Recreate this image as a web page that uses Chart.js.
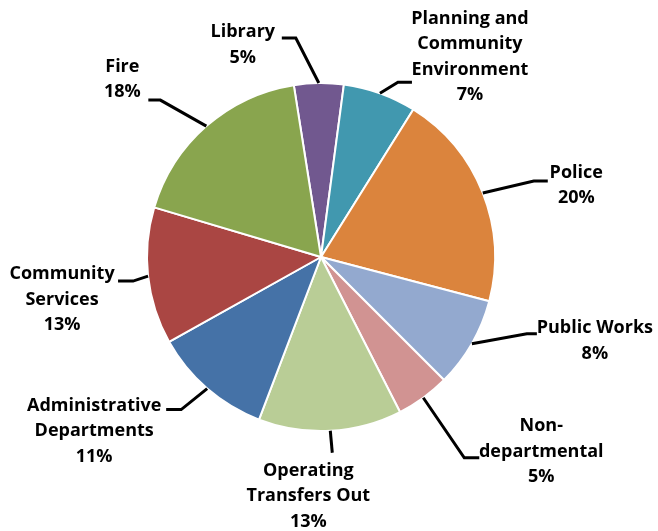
<!DOCTYPE html>
<html><head><meta charset="utf-8">
<script src="https://cdn.jsdelivr.net/npm/chart.js@4.4.0/dist/chart.umd.min.js"></script>
<style>html,body{margin:0;padding:0;background:#fff;overflow:hidden}</style>
</head><body>
<canvas id="c" width="658" height="531"></canvas>
<script>
// ---- data ----
const categories = ["Library", "Planning and\nCommunity\nEnvironment", "Police", "Public Works", "Non-\ndepartmental", "Operating\nTransfers Out", "Administrative\nDepartments", "Community\nServices", "Fire"];
const values = [4.6, 6.8, 20.2, 8.4, 5.0, 13.3, 11.1, 12.7, 17.9];
const colors = ['#71588F', '#4198AF', '#DB843D', '#93A9CF', '#D19392', '#B9CD96', '#4572A7', '#AA4643', '#89A54E'];

// ---- label layout (leader elbow offset from slice edge, tail length, text offset from tail end) ----
const labelLayout = [
  {elbow: [-23, -45], tail: -14, text: [-39, -6]},
  {elbow: [18, -11], tail: 14, text: [58, -63.5]},
  {elbow: [51, -12], tail: 14, text: [28.5, -8.5]},
  {elbow: [55, -10], tail: 10, text: [58, -5.5]},
  {elbow: [41, 60], tail: 15, text: [62, -31.5]},
  {elbow: [2, 22], tail: 0, text: [-24, 18]},
  {elbow: [-26, 21], tail: -15, text: [-72, -4]},
  {elbow: [-15, 5], tail: -15, text: [-56, -7]},
  {elbow: [-46, -26], tail: -12, text: [-26, -33.5]}
];

const total = values.reduce((a, b) => a + b, 0);

const labelPlugin = {
  id: 'leaderLabels',
  afterDatasetsDraw(chart) {
    const ctx = chart.ctx;
    const meta = chart.getDatasetMeta(0);
    ctx.save();
    meta.data.forEach((arc, i) => {
      const p = arc.getProps(['x', 'y', 'startAngle', 'endAngle', 'outerRadius'], true);
      const mid = (p.startAngle + p.endAngle) / 2;
      const ex = p.x + Math.cos(mid) * p.outerRadius;
      const ey = p.y + Math.sin(mid) * p.outerRadius;
      const L = labelLayout[i];
      const bx = ex + L.elbow[0], by = ey + L.elbow[1];
      const tx = bx + L.tail, ty = by;
      ctx.strokeStyle = '#000';
      ctx.lineWidth = 3;
      ctx.lineJoin = 'miter';
      ctx.beginPath();
      ctx.moveTo(ex, ey);
      ctx.lineTo(bx, by);
      if (L.tail !== 0) ctx.lineTo(tx, ty);
      ctx.stroke();
      const lines = categories[i].split('\n');
      lines.push(Math.round(values[i] / total * 100) + '%');
      ctx.fillStyle = '#000';
      ctx.font = 'bold 18px "Open Sans"';
      ctx.textAlign = 'center';
      ctx.textBaseline = 'middle';
      const cx = tx + L.text[0];
      let cy = ty + L.text[1];
      lines.forEach((ln, k) => ctx.fillText(ln, cx, cy + k * 25.5));
    });
    ctx.restore();
  }
};

new Chart(document.getElementById('c'), {
  type: 'pie',
  data: {
    labels: categories,
    datasets: [{
      data: values,
      backgroundColor: colors,
      borderColor: '#ffffff',
      borderWidth: 2
    }]
  },
  options: {
    responsive: false,
    animation: false,
    devicePixelRatio: 1,
    rotation: -9,
    radius: 174,
    layout: {padding: {left: 100, right: 116, top: 40, bottom: 57}},
    plugins: {legend: {display: false}, tooltip: {enabled: false}}
  },
  plugins: [labelPlugin]
});
</script>
</body></html>
